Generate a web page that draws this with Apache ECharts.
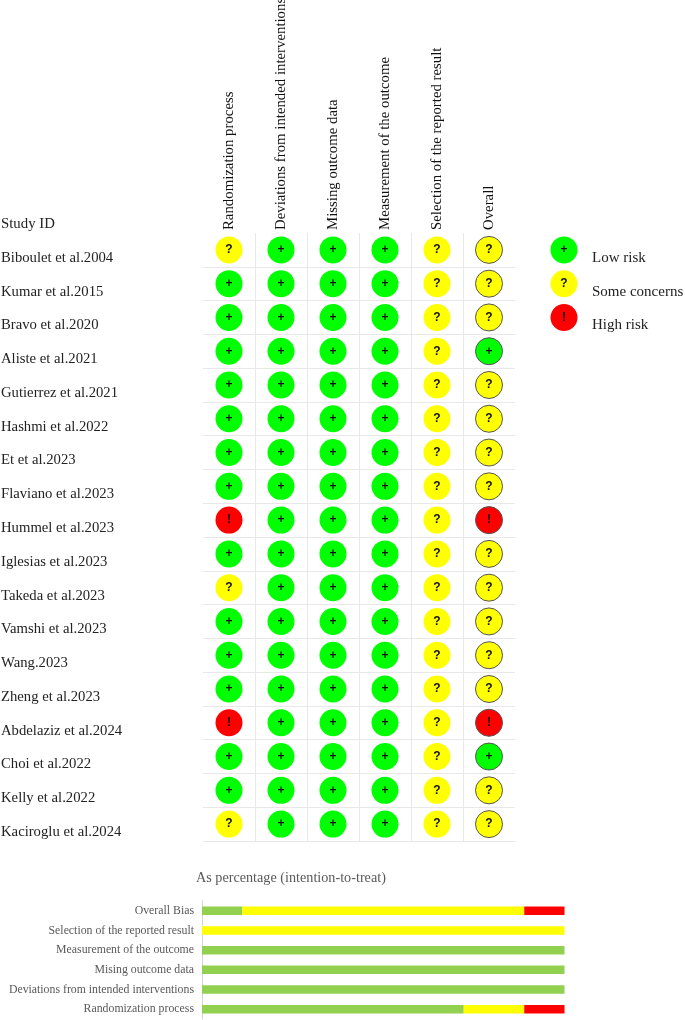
<!DOCTYPE html>
<html><head><meta charset="utf-8">
<style>html,body{margin:0;padding:0;background:#fff}#c{width:685px;height:1020px}</style>
<script src="https://cdn.jsdelivr.net/npm/echarts@6/dist/echarts.min.js"></script>
</head><body><div id="c"></div>
<script>
const studies = ["Biboulet et al.2004","Kumar et al.2015","Bravo et al.2020","Aliste et al.2021","Gutierrez et al.2021","Hashmi et al.2022","Et et al.2023","Flaviano et al.2023","Hummel et al.2023","Iglesias et al.2023","Takeda et al.2023","Vamshi et al.2023","Wang.2023","Zheng et al.2023","Abdelaziz et al.2024","Choi et al.2022","Kelly et al.2022","Kaciroglu et al.2024"];
const domains = ["Randomization process","Deviations from intended interventions","Missing outcome data","Measurement of the outcome","Selection of the reported result","Overall"];
const randomization = ["?","+","+","+","+","+","+","+","!","+","?","+","+","+","!","+","+","?"];
const deviations    = ["+","+","+","+","+","+","+","+","+","+","+","+","+","+","+","+","+","+"];
const missing       = ["+","+","+","+","+","+","+","+","+","+","+","+","+","+","+","+","+","+"];
const measurement   = ["+","+","+","+","+","+","+","+","+","+","+","+","+","+","+","+","+","+"];
const selection     = ["?","?","?","?","?","?","?","?","?","?","?","?","?","?","?","?","?","?"];
const overall       = ["?","?","?","+","?","?","?","?","!","?","?","?","?","?","!","+","?","?"];
const columns = [randomization,deviations,missing,measurement,selection,overall];
const legendNames = ["Low risk","Some concerns","High risk"];
const legendMarks = ["+","?","!"];
const barCats = ["Overall Bias","Selection of the reported result","Measurement of the outcome","Mising outcome data","Deviations from intended interventions","Randomization process"];
const barLow  = [11.1,0,100,100,100,72.2];
const barSome = [77.8,100,0,0,0,16.7];
const barHigh = [11.1,0,0,0,0,11.1];
const barTitle = "As percentage (intention-to-treat)";

const SERIF = '"Liberation Serif","Times New Roman",serif';
const fills = {"+":"#00FF00","?":"#FFFF00","!":"#FF0000"};
const markLabel = {show:true,position:'inside',formatter:p=>p.data.mark,fontFamily:'"Liberation Sans",Arial,sans-serif',fontWeight:'bold',fontSize:12,color:'#111'};

function cells(mark){
  const out=[];
  columns.forEach((col,x)=>col.forEach((m,y)=>{
    if(m===mark){
      const it={value:[x,y],mark:m};
      if(x===5) it.itemStyle={borderColor:'#555',borderWidth:1,opacity:1};
      out.push(it);
    }
  }));
  return out;
}
const series = ["+","?","!"].map(m=>({
  type:'scatter',xAxisIndex:0,yAxisIndex:0,symbol:'circle',symbolSize:27,
  itemStyle:{color:fills[m],opacity:1},label:markLabel,data:cells(m),silent:true,animation:false
}));
series.push({
  type:'scatter',xAxisIndex:1,yAxisIndex:1,symbol:'circle',symbolSize:27,silent:true,animation:false,
  label:markLabel,
  data:legendMarks.map((m,i)=>({value:[0,i],mark:m,itemStyle:{color:fills[m],opacity:1}}))
});
[[barLow,'#92D050'],[barSome,'#FFFF00'],[barHigh,'#FF0000']].forEach(([d,c])=>{
  series.push({type:'bar',xAxisIndex:2,yAxisIndex:2,stack:'r',barWidth:8.5,data:d,itemStyle:{color:c},silent:true,animation:false});
});

const option = {
  backgroundColor:'#fff',animation:false,
  title:{text:barTitle,left:191,top:866,textStyle:{fontFamily:SERIF,fontSize:14.2,fontWeight:'normal',color:'#595959'}},
  grid:[
    {left:203,top:233,width:312,height:608,outerBoundsMode:'none'},
    {left:551,top:233,width:26,height:101.4,outerBoundsMode:'none'},
    {left:202,top:901,width:362.5,height:118,outerBoundsMode:'none'}
  ],
  xAxis:[
    {gridIndex:0,type:'category',data:domains,position:'top',axisLine:{show:false},axisTick:{show:false},
      axisLabel:{rotate:-90,interval:0,margin:3,fontFamily:SERIF,fontSize:14.8,color:'#111'},
      splitLine:{show:true,interval:0,showMinLine:false,showMaxLine:false,lineStyle:{color:'#e8e8e8',width:1}}},
    {gridIndex:1,type:'category',data:[''],show:false},
    {gridIndex:2,type:'value',min:0,max:100,show:false}
  ],
  yAxis:[
    {gridIndex:0,type:'category',inverse:true,data:studies,axisLine:{show:false},axisTick:{show:false},
      axisLabel:{interval:0,margin:202,align:'left',verticalAlign:'top',lineHeight:16,fontFamily:SERIF,fontSize:14.7,color:'#222'},
      splitLine:{show:true,interval:0,showMinLine:false,showMaxLine:true,lineStyle:{color:'#e8e8e8',width:1}}},
    {gridIndex:1,type:'category',inverse:true,position:'right',data:legendNames,axisLine:{show:false},axisTick:{show:false},
      axisLabel:{interval:0,margin:15,align:'left',verticalAlign:'top',lineHeight:16,fontFamily:SERIF,fontSize:15,color:'#222'}},
    {gridIndex:2,type:'category',inverse:true,data:barCats,axisLine:{show:true,lineStyle:{color:'#d4d4d4',width:1}},axisTick:{show:false},
      axisLabel:{interval:0,margin:8,fontFamily:SERIF,fontSize:11.8,color:'#595959'}}
  ],
  graphic:[{type:'text',left:1,top:217,style:{text:'Study ID',fontFamily:SERIF,fontSize:14.8,fill:'#222'}}],
  series
};
echarts.init(document.getElementById('c'),null,{renderer:'canvas'}).setOption(option);
</script></body></html>
